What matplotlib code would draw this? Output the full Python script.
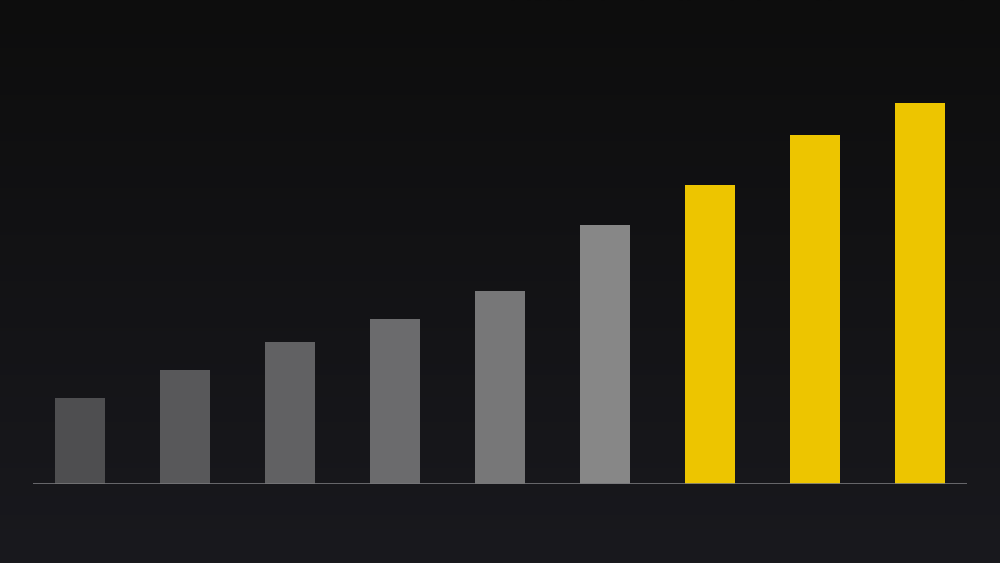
import numpy as np
import matplotlib.pyplot as plt

# bar heights (px above the baseline)
categories = ["1", "2", "3", "4", "5", "6", "7", "8", "9"]
values = [86, 114, 142, 165, 193, 259, 299, 349, 381]
colors = ["#4e4e50", "#58585a", "#616163", "#6b6b6d", "#777778", "#878787",
          "#edc500", "#edc500", "#edc500"]

fig = plt.figure(figsize=(10, 5.63), dpi=100)

# background gradient
bg = fig.add_axes([0, 0, 1, 1])
grad = np.linspace(0, 1, 256).reshape(-1, 1)
top = np.array([13, 13, 13]) / 255.0
bot = np.array([25, 25, 30]) / 255.0
img = top + (bot - top) * grad[:, :, None]
bg.imshow(img, aspect="auto", extent=[0, 1, 0, 1])
bg.axis("off")

ax = fig.add_axes([0.033, 79 / 563, 0.934, 484 / 563])
ax.patch.set_alpha(0)
x = np.arange(len(categories))
ax.bar(x, values, width=50 / 105, color=colors, zorder=2)
ax.axhline(0, color="#77777a", lw=1.2, zorder=3)
ax.set_xlim(-47 / 105, 8 + 47 / 105)
ax.set_ylim(0, 484)
ax.axis("off")

fig.savefig("out.png", dpi=100)
